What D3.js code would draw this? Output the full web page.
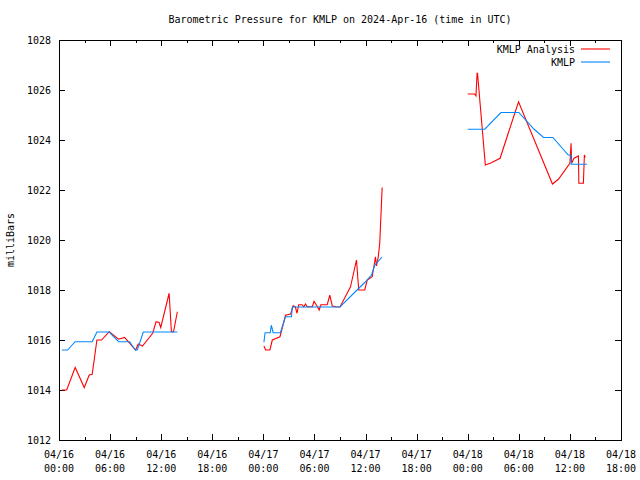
<!DOCTYPE html>
<html>
<head>
<meta charset="utf-8">
<script src="https://cdn.jsdelivr.net/npm/d3@7"></script>
<style>
  html, body { margin: 0; padding: 0; background: #fff; }
  svg { display: block; }
  text { font-family: "DejaVu Sans Mono", "Liberation Mono", monospace; font-size: 10px; fill: #000; }
</style>
</head>
<body>
<svg id="chart" width="640" height="480"></svg>
<script>
// ---- data ----
const titleText = "Barometric Pressure for KMLP on 2024-Apr-16 (time in UTC)";
const yLabel = "milliBars";
const seriesNames = ["KMLP Analysis", "KMLP"];
const yTicks = [1012, 1014, 1016, 1018, 1020, 1022, 1024, 1026, 1028];

// null = gap in the record
const analysisTimes = [
  "2024-04-16 00:20","2024-04-16 00:54","2024-04-16 01:54","2024-04-16 02:58","2024-04-16 03:33","2024-04-16 03:54",
  "2024-04-16 04:27","2024-04-16 05:00","2024-04-16 05:54","2024-04-16 07:00","2024-04-16 07:42","2024-04-16 09:00",
  "2024-04-16 09:18","2024-04-16 09:48","2024-04-16 11:00","2024-04-16 11:24","2024-04-16 11:45","2024-04-16 11:57",
  "2024-04-16 12:56","2024-04-16 13:12","2024-04-16 13:27","2024-04-16 13:54",
  "2024-04-16 19:00",
  "2024-04-17 00:04","2024-04-17 00:16","2024-04-17 00:46","2024-04-17 01:03","2024-04-17 01:57","2024-04-17 02:36",
  "2024-04-17 03:12","2024-04-17 03:30","2024-04-17 03:45","2024-04-17 03:57","2024-04-17 04:09","2024-04-17 04:33",
  "2024-04-17 04:45","2024-04-17 04:57","2024-04-17 05:09","2024-04-17 05:45","2024-04-17 05:57","2024-04-17 06:21",
  "2024-04-17 06:33","2024-04-17 06:45","2024-04-17 07:30","2024-04-17 07:48","2024-04-17 08:06","2024-04-17 08:30",
  "2024-04-17 09:00","2024-04-17 10:14","2024-04-17 10:56","2024-04-17 11:12","2024-04-17 11:54","2024-04-17 12:12",
  "2024-04-17 12:47","2024-04-17 13:10","2024-04-17 13:17","2024-04-17 13:29","2024-04-17 13:40","2024-04-17 13:57",
  "2024-04-17 19:00",
  "2024-04-18 00:00","2024-04-18 00:48","2024-04-18 00:58","2024-04-18 01:06","2024-04-18 01:09","2024-04-18 02:04",
  "2024-04-18 02:46","2024-04-18 03:48","2024-04-18 05:58","2024-04-18 09:57","2024-04-18 10:39","2024-04-18 12:00",
  "2024-04-18 12:08","2024-04-18 12:12","2024-04-18 12:29","2024-04-18 13:00","2024-04-18 13:03","2024-04-18 13:35",
  "2024-04-18 13:42","2024-04-18 13:48"
];
const analysisValues = [
  1014.0, 1014.0, 1014.9, 1014.1, 1014.6, 1014.63,
  1016.0, 1016.0, 1016.33, 1016.03, 1016.1, 1015.6,
  1015.84, 1015.76, 1016.27, 1016.73, 1016.7, 1016.5,
  1017.87, 1016.33, 1016.33, 1017.13,
  null,
  1015.76, 1015.6, 1015.6, 1016.0, 1016.13, 1016.99,
  1017.04, 1017.37, 1017.33, 1017.07, 1017.41, 1017.41,
  1017.33, 1017.44, 1017.33, 1017.33, 1017.55, 1017.33,
  1017.2, 1017.41, 1017.41, 1017.79, 1017.36, 1017.33,
  1017.32, 1018.13, 1019.2, 1018.0, 1018.0, 1018.4,
  1018.53, 1019.33, 1018.96, 1019.3, 1019.87, 1022.1,
  null,
  1025.84, 1025.84, 1025.76, 1026.67, 1026.67, 1023.0,
  1023.09, 1023.27, 1025.53, 1022.24, 1022.43, 1023.07,
  1023.87, 1023.07, 1023.27, 1023.36, 1022.27, 1022.27,
  1023.4, 1023.3
];

const obsTimes = [
  "2024-04-16 00:20","2024-04-16 01:00","2024-04-16 01:54","2024-04-16 03:54","2024-04-16 04:27","2024-04-16 05:54",
  "2024-04-16 07:00","2024-04-16 08:18","2024-04-16 08:57","2024-04-16 09:12","2024-04-16 09:54","2024-04-16 13:54",
  "2024-04-16 19:00",
  "2024-04-17 00:04","2024-04-17 00:12","2024-04-17 00:48","2024-04-17 00:56","2024-04-17 01:09","2024-04-17 02:00",
  "2024-04-17 02:36","2024-04-17 03:18","2024-04-17 03:24","2024-04-17 09:00","2024-04-17 11:00","2024-04-17 11:54",
  "2024-04-17 12:42","2024-04-17 13:06","2024-04-17 13:57",
  "2024-04-17 19:00",
  "2024-04-18 00:00","2024-04-18 02:00","2024-04-18 03:54","2024-04-18 06:00","2024-04-18 07:48","2024-04-18 08:54",
  "2024-04-18 10:00","2024-04-18 11:48","2024-04-18 12:06","2024-04-18 12:09","2024-04-18 14:00"
];
const obsValues = [
  1015.6, 1015.6, 1015.93, 1015.93, 1016.32, 1016.32,
  1015.93, 1015.93, 1015.6, 1015.6, 1016.32, 1016.32,
  null,
  1015.91, 1016.29, 1016.29, 1016.59, 1016.29, 1016.29,
  1016.93, 1016.93, 1017.32, 1017.32, 1018.0, 1018.3,
  1018.6, 1019.0, 1019.32,
  null,
  1024.43, 1024.43, 1025.1, 1025.1, 1024.43, 1024.1,
  1024.1, 1023.4, 1023.4, 1023.03, 1023.03
];

// ---- chart ----
const parseT = d3.utcParse("%Y-%m-%d %H:%M");
const svg = d3.select("#chart");
const M = { left: 59, right: 621, top: 40, bottom: 440 };

const x = d3.scaleUtc()
  .domain([parseT("2024-04-16 00:00"), parseT("2024-04-18 18:00")])
  .range([M.left, M.right]);
const y = d3.scaleLinear().domain([1012, 1028]).range([M.bottom, M.top]);

const majorT = d3.utcHour.every(6).range(x.domain()[0], d3.utcHour.offset(x.domain()[1], 1));
const minorT = d3.utcHour.every(3).range(x.domain()[0], x.domain()[1]).filter(d => d.getUTCHours() % 6 !== 0);

const gAx = svg.append("g").attr("shape-rendering", "crispEdges");

// bottom axis: ticks inward
const xb = d3.axisBottom(x).tickValues(majorT).tickSizeInner(-6).tickSizeOuter(0).tickFormat("");
gAx.append("g").attr("transform", `translate(0,${M.bottom})`).call(xb);
const xbm = d3.axisBottom(x).tickValues(minorT).tickSizeInner(-3).tickSizeOuter(0).tickFormat("");
gAx.append("g").attr("transform", `translate(0,${M.bottom})`).call(xbm);
// top mirror
const xt = d3.axisTop(x).tickValues(majorT).tickSizeInner(-6).tickSizeOuter(0).tickFormat("");
gAx.append("g").attr("transform", `translate(0,${M.top})`).call(xt);
const xtm = d3.axisTop(x).tickValues(minorT).tickSizeInner(-3).tickSizeOuter(0).tickFormat("");
gAx.append("g").attr("transform", `translate(0,${M.top})`).call(xtm);
// left / right
const yl = d3.axisLeft(y).tickValues(yTicks).tickSizeInner(-6).tickSizeOuter(0).tickFormat("");
gAx.append("g").attr("transform", `translate(${M.left},0)`).call(yl);
const yr = d3.axisRight(y).tickValues(yTicks).tickSizeInner(-6).tickSizeOuter(0).tickFormat("");
gAx.append("g").attr("transform", `translate(${M.right},0)`).call(yr);

gAx.selectAll(".domain").remove();
gAx.selectAll("line").attr("stroke", "#000").attr("stroke-width", 1);

// border
gAx.append("rect")
  .attr("x", M.left).attr("y", M.top)
  .attr("width", M.right - M.left).attr("height", M.bottom - M.top)
  .attr("fill", "none").attr("stroke", "#000").attr("stroke-width", 1);

// tick labels
const fmtD = d3.utcFormat("%m/%d"), fmtH = d3.utcFormat("%H:%M");
const xl = svg.append("g");
majorT.forEach(t => {
  const tx = xl.append("text").attr("text-anchor", "middle").attr("x", x(t));
  tx.append("tspan").attr("x", x(t)).attr("y", 458).text(fmtD(t));
  tx.append("tspan").attr("x", x(t)).attr("y", 472).text(fmtH(t));
});
svg.append("g").selectAll("text").data(yTicks).join("text")
  .attr("x", 51).attr("y", d => y(d) + 4).attr("text-anchor", "end").text(d => d);

// title and y label
svg.append("text").attr("x", (M.left + M.right) / 2).attr("y", 23)
  .attr("text-anchor", "middle").text(titleText);
svg.append("text").attr("transform", `translate(14,${(M.top + M.bottom) / 2}) rotate(-90)`)
  .attr("text-anchor", "middle").text(yLabel);

// lines
const colors = ["#ff0000", "#0088ff"];
const mk = (times, vals) => times.map((t, i) => ({ t: parseT(t), v: vals[i] }));
const line = d3.line().defined(d => d.v !== null).x(d => x(d.t)).y(d => y(d.v));
const plot = svg.append("g");
plot.append("path").datum(mk(analysisTimes, analysisValues))
  .attr("d", line).attr("fill", "none").attr("stroke", colors[0]).attr("stroke-width", 1.1);
plot.append("path").datum(mk(obsTimes, obsValues))
  .attr("d", line).attr("fill", "none").attr("stroke", colors[1]).attr("stroke-width", 1.1);

// legend
const lg = svg.append("g");
seriesNames.forEach((n, i) => {
  const ly = 49 + i * 13;
  lg.append("text").attr("x", 575).attr("y", ly + 4).attr("text-anchor", "end").text(n);
  lg.append("line").attr("x1", 581).attr("x2", 610).attr("y1", ly).attr("y2", ly)
    .attr("stroke", colors[i]).attr("stroke-width", 1.1);
});
</script>
</body>
</html>
